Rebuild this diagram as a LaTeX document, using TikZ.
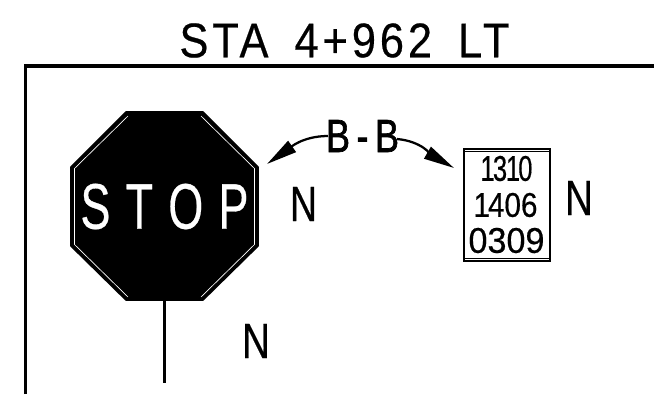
\documentclass[tikz,border=0pt]{standalone}
\usepackage{fontspec}
\usepackage{graphicx}
\setmainfont[FakeBold=0.5]{Liberation Sans}
\usetikzlibrary{arrows.meta}
\newdimen\pxu
\pxu=0.75pt
\newcommand{\fitbox}[3]{\resizebox{#1\pxu}{#2\pxu}{#3}}
\tikzset{
  lbl/.style={inner sep=0pt,outer sep=0pt,text=black},
  frametop/.style={line width=2.6pt,line cap=rect},
  frameleft/.style={line width=1.9pt},
  leader/.style={line width=1.7pt,-{Triangle[length=23pt,width=10pt]}}
}
\begin{document}
\begin{tikzpicture}[x=0.75pt,y=-0.75pt]
\useasboundingbox (0,0) rectangle (654,394);
% title and frame
\node[lbl] (title) at (344.5,40.5) {\fitbox{330}{34}{\addfontfeature{LetterSpace=9}STA\kern6pt 4+962\kern6pt LT}};
\coordinate (frameA) at (25.5,394);
\coordinate (frameB) at (25.5,66);
\coordinate (frameC) at (654,66);
\draw[frameleft] (frameA) -- (frameB);
\draw[frametop] (frameB) -- (frameC);
% stop sign
\fill[black,draw=black,line width=1.2pt,line join=round]
  (126,112) -- (203,112) -- (258,167) -- (258,246) -- (203,300) -- (126,300) -- (71,246) -- (71,167) -- cycle;
\draw[white,line width=0.5pt] (128,116) -- (74.5,168.5) -- (74.5,244.5) -- (128,297);
\draw[white,line width=0.5pt] (201,116) -- (254.5,168.5) -- (254.5,244.5) -- (201,297);
\node[lbl,text=white] (stop) at (164.5,206.5) {\color{white}\fitbox{168}{45}{S\kern3.4pt T\kern3.4pt O\kern3.4pt P}};
\coordinate (postTop) at (164.5,300);
\coordinate (postEnd) at (164.5,383);
\draw[line width=1.7pt] (postTop) -- (postEnd);
% letters N
\node[lbl] (n1) at (303.5,204) {\fitbox{27}{34}{N}};
\node[lbl] (n2) at (579,198) {\fitbox{28}{34}{N}};
\node[lbl] (n3) at (256,341) {\fitbox{28}{34}{N}};
% section label and arrows
\node[lbl] (bb) at (362.5,136) {\fitbox{73}{32}{\addfontfeature{FakeBold=1.5}B\kern1.8pt-\kern1.8pt B}};
\coordinate (tipL) at (267,164);
\coordinate (tipR) at (454,168);
\draw[leader] (bb.west) ++(2,0) to[out=180,in=35] (tipL);
\draw[leader] (bb.east) ++(-2,3) to[out=-5,in=150] (tipR);
% plate
\node[draw=black,line width=1.2pt,minimum width=64.5pt,minimum height=84pt,inner sep=0pt] (plate) at (507,205) {};
\draw[line width=0.9pt] ([yshift=-2.4pt]plate.north west) -- ([yshift=-2.4pt]plate.north east);
\draw[line width=0.9pt] ([yshift=2.4pt]plate.south west) -- ([yshift=2.4pt]plate.south east);
\node[lbl] (l1) at (506.5,168.5) {\fitbox{52}{25}{1\kern-0.7pt 3\kern-0.5pt 1\kern-0.7pt 0}};
\node[lbl] (l2) at (505.5,205) {\fitbox{64}{24}{1\kern-0.7pt 406}};
\node[lbl] (l3) at (506.5,240.5) {\fitbox{76}{25}{0309}};
\end{tikzpicture}
\end{document}
